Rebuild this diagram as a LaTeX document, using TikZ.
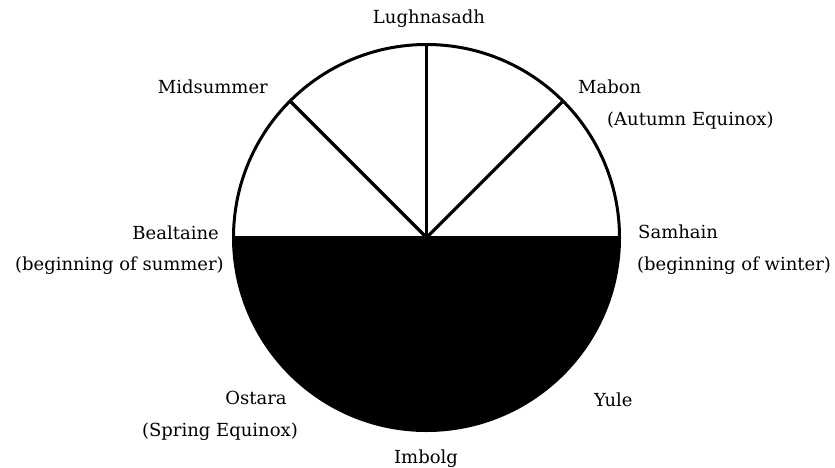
\documentclass[tikz,border=0pt]{standalone}
\usepackage{fontspec}
\setmainfont{DejaVu Serif}
\begin{document}
\begin{tikzpicture}[x=1pt,y=-1pt,
  lbl/.style={inner sep=0pt,font=\fontsize{18}{21}\selectfont},
  spoke/.style={line width=3.2pt}]
\useasboundingbox (0,0) rectangle (835,467);
\coordinate (c) at (426.5,237.5);
\fill[black] (233.5,237.5) arc[start angle=180,end angle=0,radius=193] -- cycle;
\draw[line width=3pt] (c) circle[radius=193];
\draw[spoke] (233.5,237.5) -- (619.5,237.5);
\coordinate (top) at (426.5,44.5);
\coordinate (ur) at (563,101);
\coordinate (ul) at (290,101);
\draw[spoke] (c) -- (top);
\draw[spoke] (c) -- (ul);
\draw[spoke] (c) -- (ur);
\node[lbl,anchor=base] (lug) at (429,23) {Lughnasadh};
\node[lbl,anchor=base east] (mid) at (268,93) {Midsummer};
\node[lbl,anchor=base west] (mab) at (578,93) {Mabon};
\node[lbl,anchor=base west] (mab2) at (607,125) {(Autumn Equinox)};
\node[lbl,anchor=base east] (bel) at (219,239) {Bealtaine};
\node[lbl,anchor=base east] (bel2) at (224,270) {(beginning of summer)};
\node[lbl,anchor=base west] (sam) at (638,238) {Samhain};
\node[lbl,anchor=base west] (sam2) at (637,270) {(beginning of winter)};
\node[lbl,anchor=base] (ost) at (256,404) {Ostara};
\node[lbl,anchor=base east] (ost2) at (298,436) {(Spring Equinox)};
\node[lbl,anchor=base west] (yul) at (594,406) {Yule};
\node[lbl,anchor=base] (imb) at (426,463) {Imbolg};
\end{tikzpicture}
\end{document}
